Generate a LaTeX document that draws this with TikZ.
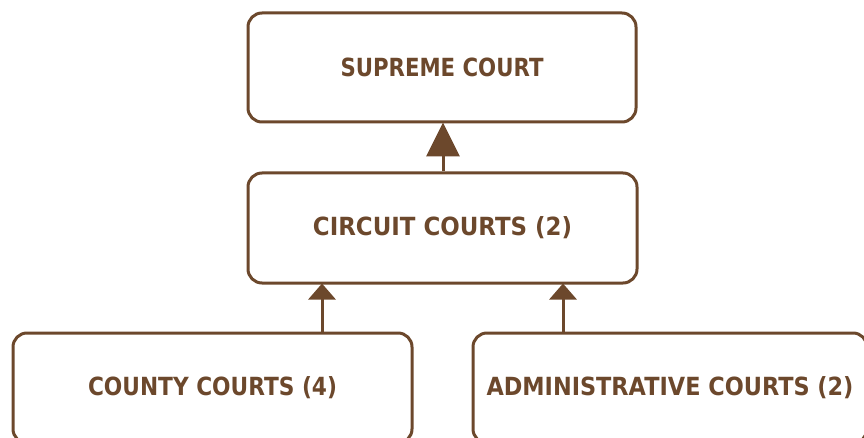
\documentclass[tikz,border=0pt]{standalone}
\usepackage{fontspec}
\usepackage{graphicx}
\setmainfont{DejaVu Sans}
\usetikzlibrary{arrows.meta}
\definecolor{brn}{RGB}{108,72,44}
\newcommand\boxlbl[2]{\resizebox{#1}{\height}{\bfseries\fontsize{25}{28}\selectfont #2}}
\tikzset{
  court/.style={draw=brn, line width=3pt, rounded corners=14pt, text=brn, inner sep=0pt, align=center},
  uparrow/.style={draw=brn, line width=3pt, -{Triangle[length=16pt,width=27pt]}, shorten >=-1pt},
  bigarrow/.style={draw=brn, line width=3pt, -{Triangle[length=34pt,width=33pt]}, shorten >=-1pt}
}
\begin{document}
\begin{tikzpicture}[x=1pt,y=-1pt]
\useasboundingbox (0,0) rectangle (864,438);
\clip (0,0) rectangle (864,438);
\node[court, minimum width=388pt, minimum height=109pt] (supreme) at (442,67.5) {\boxlbl{203pt}{SUPREME COURT}};
\node[court, minimum width=389pt, minimum height=110pt] (circuit) at (442.5,228) {\boxlbl{259pt}{CIRCUIT COURTS (2)}};
\node[court, minimum width=399pt, minimum height=110pt] (county) at (212.5,388) {\boxlbl{249pt}{COUNTY COURTS (4)}};
\node[court, minimum width=394pt, minimum height=110pt] (admin) at (670,388) {\boxlbl{367pt}{ADMINISTRATIVE COURTS (2)}};
\draw[bigarrow] (circuit.north -| 443,0) -- (supreme.south -| 443,0);
\draw[uparrow] (county.north -| 322,0) -- (circuit.south -| 322,0);
\draw[uparrow] (admin.north -| 563,0) -- (circuit.south -| 563,0);
\end{tikzpicture}
\end{document}
